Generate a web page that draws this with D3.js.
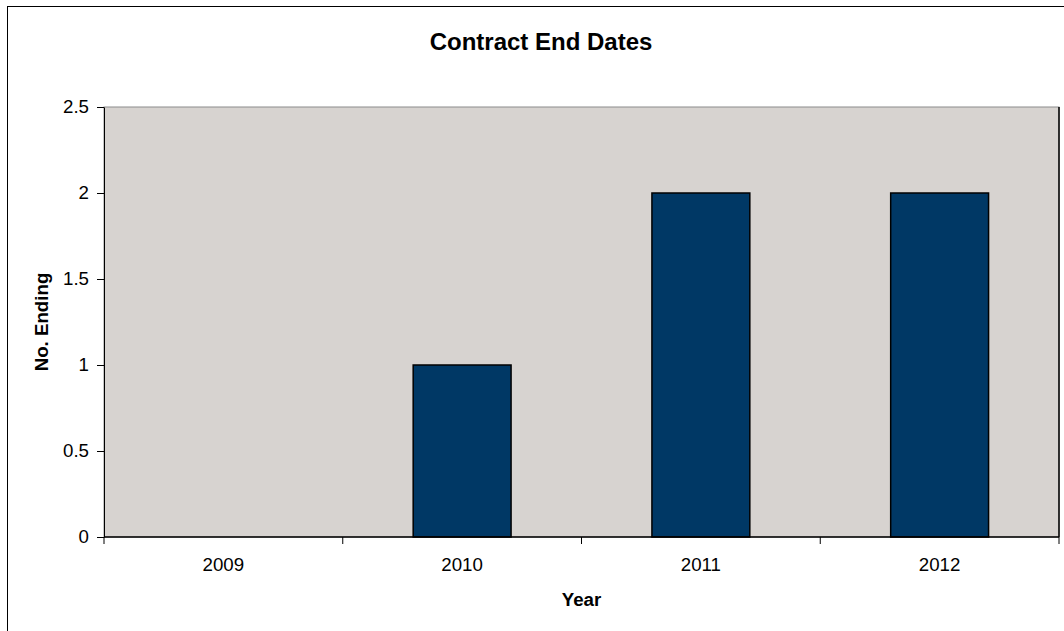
<!DOCTYPE html>
<html>
<head>
<meta charset="utf-8">
<script src="https://cdn.jsdelivr.net/npm/d3@7"></script>
<style>
  html, body { margin: 0; padding: 0; background: #ffffff; }
  svg { display: block; font-family: "Liberation Sans", Arial, sans-serif; }
</style>
</head>
<body>
<svg id="chart" width="1064" height="631"></svg>
<script>
// Contract end dates per year
const years = ["2009", "2010", "2011", "2012"];
const endingCounts = [0, 1, 2, 2];
const yTicks = [0, 0.5, 1, 1.5, 2, 2.5];

const svg = d3.select("#chart");
const plot = { left: 104, right: 1059, top: 107, bottom: 537 };

// chart area frame (runs off the right and bottom of the canvas)
svg.append("rect")
  .attr("x", 7.5).attr("y", 6.5)
  .attr("width", 1100).attr("height", 700)
  .attr("fill", "#ffffff").attr("stroke", "#000000").attr("stroke-width", 1);

const x = d3.scaleBand().domain(years).range([plot.left, plot.right]).padding(0);
const y = d3.scaleLinear().domain([0, 2.5]).range([plot.bottom, plot.top]);

// plot area background
svg.append("rect")
  .attr("x", plot.left).attr("y", plot.top)
  .attr("width", plot.right - plot.left).attr("height", plot.bottom - plot.top)
  .attr("fill", "#d7d3d0").attr("stroke", "#8c8c8c").attr("stroke-width", 1);
svg.append("line")
  .attr("x1", plot.right).attr("x2", plot.right)
  .attr("y1", plot.top).attr("y2", plot.bottom)
  .attr("stroke", "#000000").attr("stroke-width", 1.5);

// bars
const barW = x.bandwidth() * 0.41;
svg.append("g").selectAll("rect")
  .data(years.map((yr, i) => ({ yr, v: endingCounts[i] })).filter(d => d.v > 0))
  .join("rect")
  .attr("x", d => x(d.yr) + (x.bandwidth() - barW) / 2)
  .attr("y", d => y(d.v))
  .attr("width", barW)
  .attr("height", d => y(0) - y(d.v))
  .attr("fill", "#003865")
  .attr("stroke", "#000000")
  .attr("stroke-width", 1.5);

// y axis
const yAxis = svg.append("g")
  .attr("transform", `translate(${plot.left},0)`)
  .call(d3.axisLeft(y).tickValues(yTicks).tickFormat(d => String(d)).tickSize(7).tickSizeOuter(0).tickPadding(8));
yAxis.select(".domain").attr("stroke", "#000000");
yAxis.selectAll(".tick line").attr("stroke", "#000000");
yAxis.selectAll("text").attr("font-size", "18.7px").attr("fill", "#000000")
  .attr("font-family", "'Liberation Sans', Arial, sans-serif");

// x axis: ticks sit on band boundaries, labels centred in each band
const xAxisG = svg.append("g").attr("transform", `translate(0,${plot.bottom})`);
xAxisG.append("line")
  .attr("x1", plot.left).attr("x2", plot.right)
  .attr("stroke", "#000000").attr("stroke-width", 1.5);
const boundaries = years.map(yr => x(yr)).concat([x(years[years.length - 1]) + x.bandwidth()]);
xAxisG.selectAll("line.tick").data(boundaries).join("line")
  .attr("class", "tick")
  .attr("x1", d => d).attr("x2", d => d)
  .attr("y1", 0).attr("y2", 7)
  .attr("stroke", "#000000");
xAxisG.selectAll("text").data(years).join("text")
  .attr("x", d => x(d) + x.bandwidth() / 2)
  .attr("y", 34)
  .attr("text-anchor", "middle")
  .attr("font-size", "18.7px")
  .attr("fill", "#000000")
  .text(d => d);

// titles
svg.append("text")
  .attr("x", 541).attr("y", 50)
  .attr("text-anchor", "middle")
  .attr("font-size", "24px").attr("font-weight", "bold")
  .text("Contract End Dates");

svg.append("text")
  .attr("x", (plot.left + plot.right) / 2).attr("y", 606)
  .attr("text-anchor", "middle")
  .attr("font-size", "18.7px").attr("font-weight", "bold")
  .text("Year");

svg.append("text")
  .attr("transform", `translate(48,${(plot.top + plot.bottom) / 2}) rotate(-90)`)
  .attr("text-anchor", "middle")
  .attr("font-size", "18.7px").attr("font-weight", "bold")
  .text("No. Ending");
</script>
</body>
</html>
